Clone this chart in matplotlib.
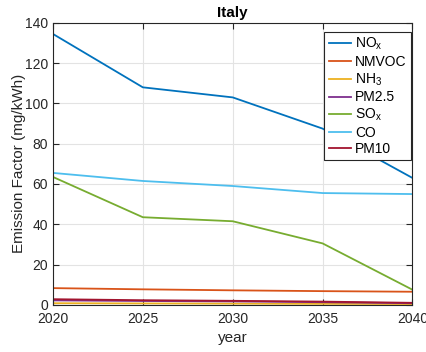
import matplotlib
matplotlib.use("Agg")
import matplotlib.pyplot as plt

plt.rcParams["font.family"] = ["Liberation Sans", "DejaVu Sans"]

years = [2020, 2025, 2030, 2035, 2040]

nox = [134.5, 108.0, 103.0, 87.5, 63.0]
nmvoc = [8.3, 7.7, 7.2, 6.8, 6.5]
nh3 = [0.8, 0.7, 0.6, 0.5, 0.4]
pm25 = [2.2, 1.9, 1.7, 1.3, 0.8]
sox = [63.5, 43.5, 41.5, 30.5, 7.5]
co = [65.5, 61.5, 59.0, 55.5, 55.0]
pm10 = [2.8, 2.3, 2.0, 1.6, 1.0]

series = [
    (r"NO$_\mathregular{x}$", nox, "#0072BD"),
    ("NMVOC", nmvoc, "#D95319"),
    (r"NH$_\mathregular{3}$", nh3, "#EDB120"),
    ("PM2.5", pm25, "#7E2F8E"),
    (r"SO$_\mathregular{x}$", sox, "#77AC30"),
    ("CO", co, "#4DBEEE"),
    ("PM10", pm10, "#A2142F"),
]

fig = plt.figure(figsize=(4.27, 3.52), dpi=100)
ax = fig.add_axes([0.124, 0.134, 0.842, 0.801])

for label, vals, color in series:
    ax.plot(years, vals, color=color, lw=1.3, label=label)

ax.set_xlim(2020, 2040)
ax.set_ylim(0, 140)
ax.set_xticks(years)
ax.set_yticks(range(0, 141, 20))
ax.grid(True, color="#e3e3e3", lw=0.8)
ax.set_axisbelow(True)
ax.tick_params(direction="in", top=True, right=True, labelsize=10, length=4,
               color="#262626", labelcolor="#262626")
ax.tick_params(axis="x", pad=5)
for s in ax.spines.values():
    s.set_color("#262626")
    s.set_linewidth(0.8)

ax.set_title("Italy", fontsize=11, fontweight="bold", pad=4)
ax.set_xlabel("year", fontsize=11, color="#262626", labelpad=4)
ax.set_ylabel("Emission Factor (mg/kWh)", fontsize=11, color="#262626", labelpad=-1)

leg = ax.legend(loc="upper right", bbox_to_anchor=(0.995, 0.968), fontsize=10,
                fancybox=False, framealpha=1, edgecolor="#262626",
                borderaxespad=0, handlelength=1.6, labelspacing=0.18,
                borderpad=0.3, handletextpad=0.3)
leg.get_frame().set_linewidth(0.8)

fig.savefig("out.png", dpi=100)
